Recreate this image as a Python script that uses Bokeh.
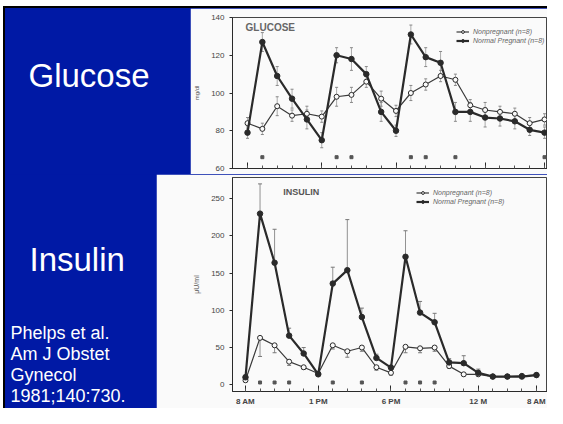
from bokeh.plotting import figure
from bokeh.models import (Range1d, FixedTicker, Label, Legend, LegendItem,
                          ColumnDataSource, Whisker, TeeHead, Spacer)
from bokeh.layouts import row, column
from bokeh.embed import file_html
from bokeh.resources import INLINE

# ---------------- data ----------------
hour_index = list(range(21))          # 8AM..11PM hourly, then 12M, 2, 4, 6, 8AM
tick_positions = [0, 5, 10, 16, 20]
tick_labels = ["8 AM", "1 PM", "6 PM", "12 M", "8 AM"]

glu_pregnant = [79, 127, 109, 97, 86, 75, 120, 118, 110, 90, 80, 131, 119, 116,
                90, 90, 87, 86.5, 85, 80.5, 79]
glu_nonpregnant = [84, 81, 93, 88, 89, 87.5, 98, 99, 106, 97, 90.5, 100, 104.5, 109,
                   107, 93.5, 91, 90, 89, 84, 86]
glu_pregnant_se = [3, 5, 5, 5, 5, 4, 4, 6, 4, 5, 3, 5, 5, 6, 5, 5, 5, 4, 4, 3, 3]
glu_nonpregnant_se = [3, 3, 5, 3, 4, 3, 5, 4, 3, 4, 3, 4, 3, 3, 3, 3, 4, 3, 3, 3, 3]
glu_signif = [1, 6, 7, 11, 12, 14, 20]

ins_pregnant = [10, 230, 164, 66, 42, 14, 136, 154, 91, 36, 23, 172, 97, 84,
                30, 29, 16, 11, 11, 11, 13]
ins_nonpregnant = [6, 63, 53, 31, 23.5, 15, 53, 45, 50, 23.5, 16, 51, 49, 50,
                   25, 14, 14, 11, 11, 12, 13]
ins_pregnant_se = [3, 40, 45, 10, 8, 3, 22, 68, 12, 5, 3, 35, 15, 12, 5, 10, 5, 2, 2, 2, 2]
ins_nonpregnant_se = [2, 25, 10, 5, 3, 2, 5, 8, 5, 4, 3, 8, 6, 5, 3, 2, 2, 2, 2, 2, 2]
ins_signif = [1, 2, 3, 6, 8, 11, 12, 13]

citation_lines = ["Phelps et al.", "Am J Obstet", "Gynecol", "1981;140:730."]

# ---------------- styles ----------------
BLUE = "#0019A5"
CHART_BG = "#FAFAFA"
INK = "#2a2a2a"
GLU_SIG_Y = 66
INS_SIG_Y = 3


def blue_panel(w, h):
    p = figure(width=w, height=h, x_range=Range1d(0, w), y_range=Range1d(0, h),
               output_backend="svg", toolbar_location=None, title=None,
               x_axis_type=None, y_axis_type=None, frame_align=False,
               min_border=0, min_border_left=0, min_border_right=0,
               min_border_top=0, min_border_bottom=0,
               background_fill_color=BLUE, border_fill_color=BLUE,
               outline_line_color=None)
    p.grid.visible = False
    return p


def style_chart(p, yticks, ylabel, ylabel_size, tick_size, show_xlabels):
    p.grid.visible = False
    xa = p.xaxis[0]
    xa.ticker = FixedTicker(ticks=tick_positions, minor_ticks=hour_index)
    xa.major_tick_in = 6
    xa.major_tick_out = 0
    xa.minor_tick_in = 3
    xa.minor_tick_out = 0
    xa.axis_line_color = INK
    xa.major_tick_line_color = INK
    xa.minor_tick_line_color = "#555"
    if show_xlabels:
        xa.major_label_overrides = {t: l for t, l in zip(tick_positions, tick_labels)}
        xa.major_label_text_font_size = "8px"
        xa.major_label_text_font_style = "bold"
        xa.major_label_text_color = "#444"
        xa.major_label_standoff = 5
        xa.major_label_text_font = "Liberation Sans"
    else:
        xa.major_label_overrides = {t: "" for t in tick_positions}
        xa.major_label_text_font_size = "1px"
        xa.major_label_standoff = 0
    ya = p.yaxis[0]
    ya.ticker = FixedTicker(ticks=yticks)
    ya.major_tick_out = 3
    ya.major_tick_in = 0
    ya.minor_tick_line_color = None
    ya.axis_line_color = INK
    ya.major_tick_line_color = INK
    ya.major_label_text_font_size = tick_size
    ya.major_label_text_color = "#444"
    ya.major_label_text_font = "Liberation Sans"
    ya.major_label_standoff = 5
    ya.axis_label = ylabel
    ya.axis_label_text_font_size = ylabel_size
    ya.axis_label_text_font_style = "normal"
    ya.axis_label_text_color = "#555"
    ya.axis_label_standoff = 8


def draw_series(p, preg, nonp, preg_se, nonp_se, one_sided):
    if one_sided:
        src_p = ColumnDataSource(dict(x=hour_index, lo=preg,
                                      hi=[v + s for v, s in zip(preg, preg_se)]))
        src_n = ColumnDataSource(dict(x=hour_index, hi=nonp,
                                      lo=[v - s for v, s in zip(nonp, nonp_se)]))
        wp = Whisker(base="x", lower="lo", upper="hi", source=src_p, line_color="#777",
                     line_width=0.8, upper_head=TeeHead(size=4, line_color="#777"),
                     lower_head=None)
        wn = Whisker(base="x", lower="lo", upper="hi", source=src_n, line_color="#777",
                     line_width=0.8, lower_head=TeeHead(size=4, line_color="#777"),
                     upper_head=None)
    else:
        src_p = ColumnDataSource(dict(x=hour_index,
                                      lo=[v - s for v, s in zip(preg, preg_se)],
                                      hi=[v + s for v, s in zip(preg, preg_se)]))
        src_n = ColumnDataSource(dict(x=hour_index,
                                      lo=[v - s for v, s in zip(nonp, nonp_se)],
                                      hi=[v + s for v, s in zip(nonp, nonp_se)]))
        wp = Whisker(base="x", lower="lo", upper="hi", source=src_p, line_color="#888",
                     line_width=0.7, upper_head=TeeHead(size=3, line_color="#888"),
                     lower_head=TeeHead(size=3, line_color="#888"))
        wn = Whisker(base="x", lower="lo", upper="hi", source=src_n, line_color="#888",
                     line_width=0.7, upper_head=TeeHead(size=3, line_color="#888"),
                     lower_head=TeeHead(size=3, line_color="#888"))
    p.add_layout(wp)
    p.add_layout(wn)
    ln = p.line(hour_index, nonp, line_color="#3a3a3a", line_width=1.2)
    sn = p.scatter(hour_index, nonp, size=5, marker="circle", fill_color=CHART_BG,
                   line_color="#2a2a2a", line_width=1)
    lp = p.line(hour_index, preg, line_color=INK, line_width=2.2)
    sp = p.scatter(hour_index, preg, size=5.5, marker="circle", fill_color=INK,
                   line_color=INK)
    return (ln, sn), (lp, sp)


def add_legend(p, rn, rp, loc):
    leg = Legend(items=[LegendItem(label="Nonpregnant (n=8)", renderers=list(rn)),
                        LegendItem(label="Normal Pregnant (n=8)", renderers=list(rp))],
                 location=loc, background_fill_alpha=0, border_line_alpha=0,
                 label_text_font_size="7px", label_text_font_style="italic",
                 label_text_color="#666", glyph_width=13, glyph_height=7,
                 label_height=7, spacing=2, padding=0, margin=0, label_standoff=4)
    p.add_layout(leg)


# ---------------- glucose chart ----------------
pg = figure(width=357, height=166, x_range=Range1d(-1.01, 20.2), y_range=Range1d(60, 140),
            output_backend="svg", toolbar_location=None, frame_align=False,
            min_border_left=42, min_border_right=0, min_border_top=9, min_border_bottom=6,
            background_fill_color=CHART_BG, border_fill_color=CHART_BG,
            outline_line_color="#444")
style_chart(pg, [60, 80, 100, 120, 140], "mg/dl", "6px", "8px", False)
rn, rp = draw_series(pg, glu_pregnant, glu_nonpregnant, glu_pregnant_se,
                     glu_nonpregnant_se, False)
pg.scatter(glu_signif, [GLU_SIG_Y] * len(glu_signif), marker="square", size=3,
           color="#555")
pg.add_layout(Label(x=-0.13, y=134.8, text="GLUCOSE", text_font_size="10px",
                    text_font_style="bold", text_color="#666", text_baseline="middle",
                    text_font="Liberation Sans"))
add_legend(pg, rn, rp, (224, 124))

# ---------------- insulin chart ----------------
pi = figure(width=391, height=234, x_range=Range1d(-0.893, 20.76), y_range=Range1d(-9.1, 278.6),
            output_backend="svg", toolbar_location=None, frame_align=False,
            min_border_left=76, min_border_right=0, min_border_top=3, min_border_bottom=17,
            background_fill_color=CHART_BG, border_fill_color=CHART_BG,
            outline_line_color="#444")
style_chart(pi, [0, 50, 100, 150, 200, 250], "\u03bcU/ml", "7px", "8px", True)
rn2, rp2 = draw_series(pi, ins_pregnant, ins_nonpregnant, ins_pregnant_se,
                       ins_nonpregnant_se, True)
pi.scatter(ins_signif, [INS_SIG_Y] * len(ins_signif), marker="square", size=3,
           color="#555")
pi.add_layout(Label(x=2.6, y=259, text="INSULIN", text_font_size="9px",
                    text_font_style="bold", text_color="#555", text_baseline="middle",
                    text_font="Liberation Sans"))
add_legend(pi, rn2, rp2, (184, 186))

# ---------------- blue slide panels ----------------
top_left = blue_panel(185, 166)
top_left.add_layout(Label(x=23, y=98.7, text="Glucose", text_color="white",
                          text_font="Liberation Sans", text_font_size="33px",
                          text_baseline="alphabetic"))

bottom_left = blue_panel(151, 234)
bottom_left.add_layout(Label(x=24, y=149.3, text="Insulin", text_color="white",
                             text_font="Liberation Sans", text_font_size="33px",
                             text_baseline="alphabetic"))
for i, line in enumerate(citation_lines):
    bottom_left.add_layout(Label(x=5, y=75.7 - 21 * i, text=line, text_color="white",
                                 text_font="Liberation Sans", text_font_size="18px",
                                 text_baseline="alphabetic"))

panels = column(row(top_left, pg, spacing=0), row(bottom_left, pi, spacing=0),
                spacing=0, styles={"background-color": BLUE})
left_bar = Spacer(width=2, height=400, styles={"background-color": "black"})
top_bar = Spacer(width=544, height=2, styles={"background-color": "black"})

layout = column(
    Spacer(width=547, height=6),
    row(Spacer(width=3, height=2), top_bar, spacing=0),
    row(Spacer(width=3, height=400), left_bar, panels, spacing=0),
    spacing=0,
)

open("out.html", "w").write(file_html(layout, INLINE))
